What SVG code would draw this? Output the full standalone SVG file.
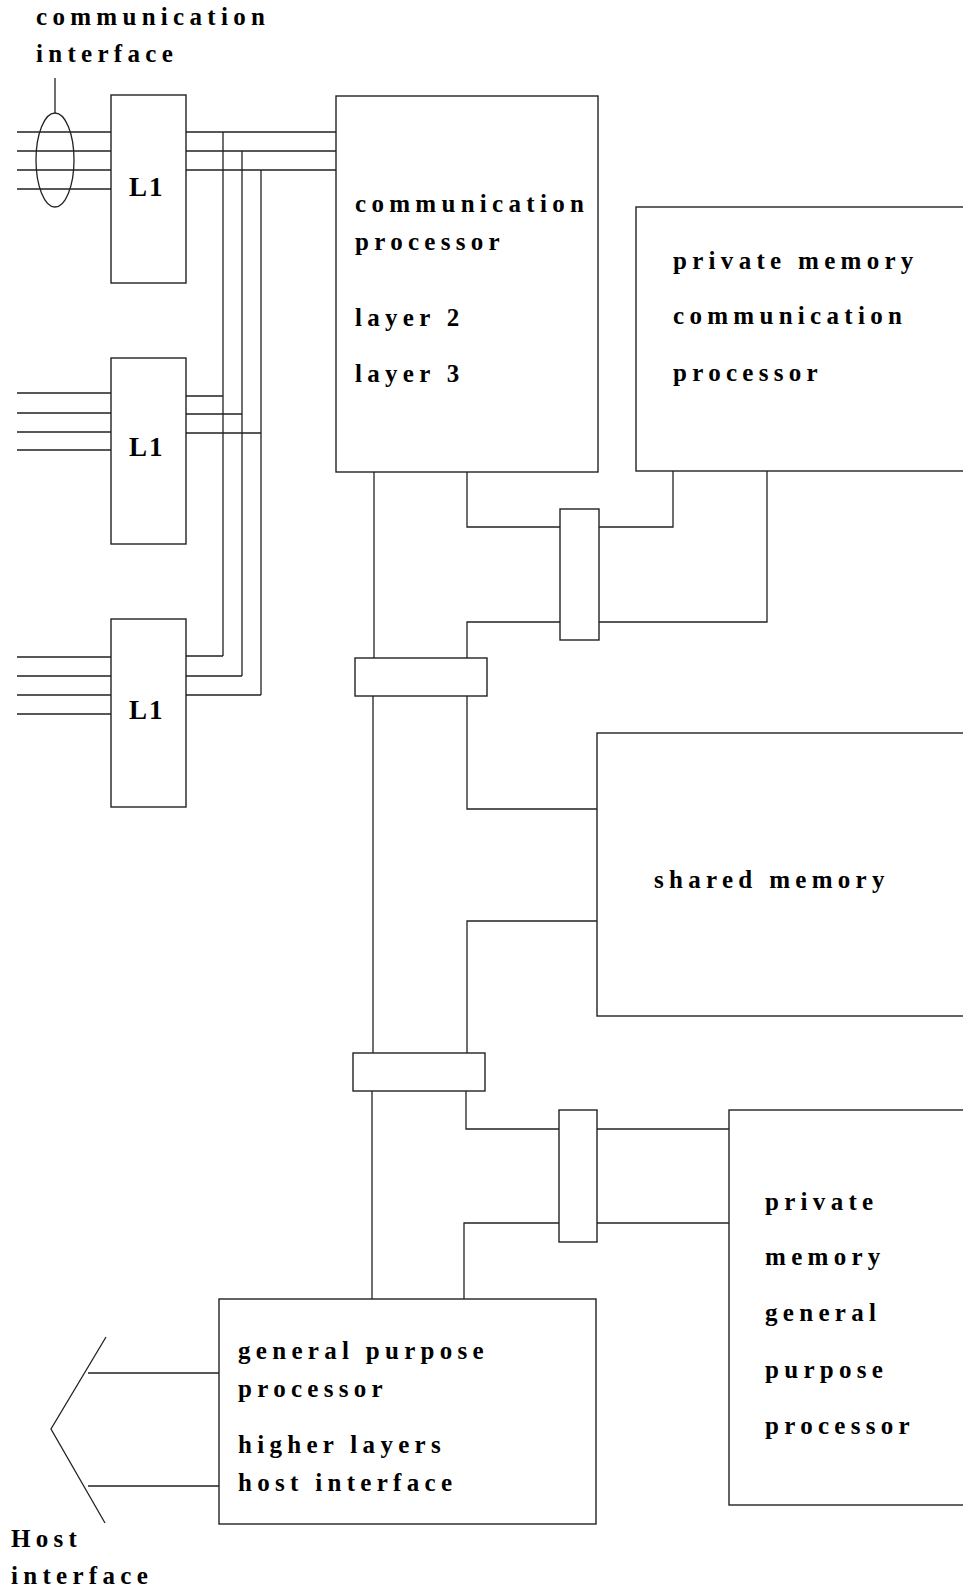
<svg xmlns="http://www.w3.org/2000/svg" width="963" height="1594" viewBox="0 0 963 1594">
<style>
.box{fill:#fff;stroke:#222;stroke-width:1.4}
.ln{fill:none;stroke:#222;stroke-width:1.3}
.t{font-family:"Liberation Serif","Times New Roman",serif;font-weight:bold;font-size:25px;letter-spacing:5.3px;fill:#000}
.l1{font-family:"Liberation Serif","Times New Roman",serif;font-weight:bold;font-size:27px;letter-spacing:2px;fill:#000}
</style>
<rect width="963" height="1594" fill="#fff"/>
<g id="connectors" class="ln">
  <line x1="55" y1="78" x2="55" y2="113"/>
  <ellipse cx="55" cy="160" rx="19" ry="47"/>
  <path d="M17 132H111M17 151H111M17 170H111M17 189H111"/>
  <path d="M17 393H111M17 413H111M17 432H111M17 450H111"/>
  <path d="M17 657H111M17 676H111M17 695H111M17 714H111"/>
  <path d="M186 132H336M186 151H336M186 170H336"/>
  <path d="M223 132V656M242 151V676M261 170V695"/>
  <path d="M186 396H223M186 414H242M186 433H261"/>
  <path d="M186 656H223M186 676H242M186 695H261"/>
  <path d="M467 472V527H560"/>
  <path d="M599 527H673V471"/>
  <path d="M767 471V622H599"/>
  <path d="M560 622H467V658"/>
  <path d="M374 472V658"/>
  <path d="M373 696V1053"/>
  <path d="M467 696V809H597"/>
  <path d="M597 921H467V1053"/>
  <path d="M372 1091V1299"/>
  <path d="M466 1091V1129H559"/>
  <path d="M597 1129H729"/>
  <path d="M597 1223H729"/>
  <path d="M559 1223H464V1299"/>
  <polyline points="106,1337 51,1429 105,1523"/>
  <path d="M88 1373H219M88 1486H219"/>
</g>
<g id="label-comm-interface">
  <text class="t" x="36" y="25">communication</text>
  <text class="t" x="36" y="62">interface</text>
</g>
<g id="l1-a"><rect class="box" x="111" y="95" width="75" height="188"/><text class="l1" x="129" y="196">L1</text></g>
<g id="l1-b"><rect class="box" x="111" y="358" width="75" height="186"/><text class="l1" x="129" y="456">L1</text></g>
<g id="l1-c"><rect class="box" x="111" y="619" width="75" height="188"/><text class="l1" x="129" y="719">L1</text></g>
<g id="comm-processor">
  <rect class="box" x="336" y="96" width="262" height="376"/>
  <text class="t" x="355" y="212">communication</text>
  <text class="t" x="355" y="250">processor</text>
  <text class="t" x="355" y="326">layer 2</text>
  <text class="t" x="355" y="382">layer 3</text>
</g>
<g id="private-memory-comm">
  <rect class="box" x="636" y="207" width="340" height="264"/>
  <text class="t" x="673" y="269">private memory</text>
  <text class="t" x="673" y="324">communication</text>
  <text class="t" x="673" y="381">processor</text>
</g>
<g id="coupler-1"><rect class="box" x="560" y="509" width="39" height="131"/></g>
<g id="coupler-2"><rect class="box" x="355" y="658" width="132" height="38"/></g>
<g id="shared-memory">
  <rect class="box" x="597" y="733" width="380" height="283"/>
  <text class="t" x="654" y="888">shared memory</text>
</g>
<g id="coupler-3"><rect class="box" x="353" y="1053" width="132" height="38"/></g>
<g id="coupler-4"><rect class="box" x="559" y="1110" width="38" height="132"/></g>
<g id="private-memory-gp">
  <rect class="box" x="729" y="1110" width="250" height="395"/>
  <text class="t" x="765" y="1210">private</text>
  <text class="t" x="765" y="1265">memory</text>
  <text class="t" x="765" y="1321">general</text>
  <text class="t" x="765" y="1378">purpose</text>
  <text class="t" x="765" y="1434">processor</text>
</g>
<g id="gp-processor">
  <rect class="box" x="219" y="1299" width="377" height="225"/>
  <text class="t" x="238" y="1359">general purpose</text>
  <text class="t" x="238" y="1397">processor</text>
  <text class="t" x="238" y="1453">higher layers</text>
  <text class="t" x="238" y="1491">host interface</text>
</g>
<g id="label-host-interface">
  <text class="t" x="11" y="1547">Host</text>
  <text class="t" x="11" y="1584">interface</text>
</g>
</svg>
